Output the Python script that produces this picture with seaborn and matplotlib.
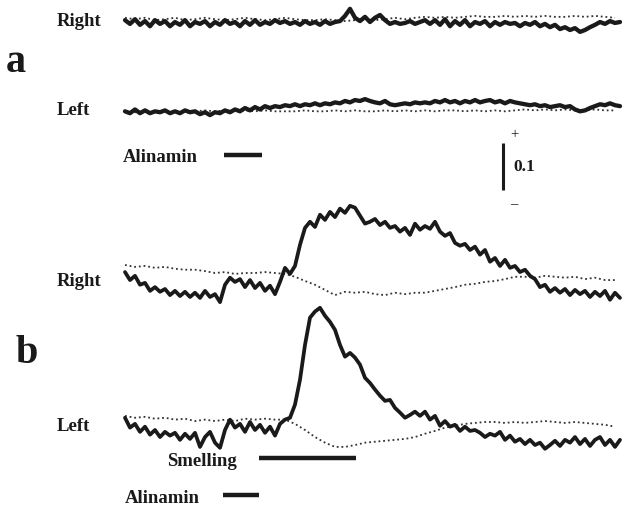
import numpy as np
import pandas as pd
import matplotlib
matplotlib.use('Agg')
import matplotlib.pyplot as plt
import seaborn as sns

# traces, in units of 1e-3 (scale bar = 0.1)
# solid traces sampled every 2.5 s, dotted traces every 5 s
a_right_solid = [4, -4, 6, -6, 2, -9, 4, -4, 2, -9,
                 0, -6, 4, -9, 0, -4, 2, -9, 0, -6,
                 4, -4, 0, -9, 2, -6, 4, -6, 0, -4,
                 4, -2, 2, -4, 0, -6, 2, -4, 0, -6,
                 2, -4, 0, 2, 13, 28, 9, 2, 11, 0,
                 9, 15, 4, -4, 0, -4, -2, 2, -4, 0,
                 4, -4, 4, -6, 6, -9, 2, -6, 4, -9,
                 0, -4, 2, -9, 0, -6, 0, -4, -2, -9,
                 -2, -6, 0, -9, -4, -11, -6, -15, -11, -17,
                 -13, -21, -17, -11, -6, 0, -4, 2, -2, 0]
a_right_dotted = [9, 6, 9, 4, 6, 9, 4, 6, 9, 6, 4, 6, 9, 6, 4, 6, 9, 6, 4, 4,
                  6, 4, 2, 4, 6, 4, 6, 9, 6, 9, 11, 9, 11, 9, 11, 13, 11, 11, 13, 11,
                  13, 11, 13, 11, 11, 13, 11, 13, 11, 9]
a_left_solid = [-13, -17, -9, -17, -11, -17, -13, -15, -11, -17,
                -13, -17, -11, -15, -13, -19, -15, -21, -15, -17,
                -11, -15, -9, -13, -6, -11, -4, -9, -2, -6,
                -2, -4, 0, -2, 2, -2, 2, 0, 4, 0,
                4, 2, 6, 4, 9, 6, 11, 9, 13, 9,
                6, 4, 9, 2, 0, 2, 4, 2, 6, 4,
                6, 4, 9, 6, 11, 6, 9, 4, 9, 6,
                11, 6, 9, 11, 6, 9, 4, 9, 6, 4,
                2, 0, 2, -2, 0, -4, -2, 0, -4, -2,
                -9, -13, -11, -6, -2, 2, 0, 4, 0, -2]
a_left_dotted = [-13, -15, -13, -15, -13, -15, -13, -13, -11, -13, -11, -13, -11, -13, -11, -13, -13, -13, -11, -13,
                 -13, -11, -13, -11, -13, -13, -11, -13, -11, -13, -11, -13, -11, -11, -13, -11, -13, -11, -13, -11,
                 -9, -11, -9, -11, -9, -11, -11, -9, -11, -11]
b_right_solid = [38, 21, 30, 11, 15, -2, 6, -4, 2, -11,
                 -2, -13, -4, -15, -6, -17, -2, -15, -9, -26,
                 11, 26, 17, 23, 6, 21, 4, 15, -2, 9,
                 -9, 17, 47, 34, 51, 96, 132, 145, 134, 160,
                 149, 166, 155, 173, 164, 179, 175, 158, 141, 145,
                 151, 138, 145, 132, 136, 124, 132, 117, 141, 128,
                 136, 130, 145, 124, 115, 121, 100, 94, 98, 85,
                 92, 75, 85, 60, 68, 51, 64, 47, 51, 38,
                 43, 30, 23, 6, 11, -4, 4, -6, 2, -11,
                 0, -9, -2, -15, -4, -13, -2, -21, -6, -17]
b_right_dotted = [53, 49, 51, 47, 49, 45, 43, 43, 40, 36, 38, 34, 36, 36, 38, 36, 34, 28, 19, 11,
                  0, -11, -4, -6, -4, -9, -11, -6, -9, -6, -6, -2, 2, 6, 11, 13, 17, 19, 23, 28,
                  28, 26, 30, 28, 26, 28, 23, 26, 21, 21]
b_left_solid = [47, 26, 34, 17, 28, 11, 21, 6, 17, 9,
                15, 0, 13, 2, 15, -15, 6, 17, -6, -17,
                21, 43, 26, 34, 17, 38, 21, 32, 15, 28,
                9, 34, 43, 47, 75, 128, 202, 260, 273, 281,
                264, 251, 234, 202, 177, 185, 175, 160, 132, 121,
                107, 94, 83, 85, 68, 58, 47, 53, 60, 51,
                60, 43, 51, 30, 40, 28, 32, 19, 28, 19,
                21, 15, 6, 13, 9, 17, 0, 9, -4, 2,
                -9, 0, -11, -6, -19, -11, -2, -13, 0, -6,
                6, -9, 2, -13, 0, 6, -11, 0, -15, 0]
b_left_dotted = [51, 47, 49, 45, 47, 43, 45, 40, 43, 40, 43, 40, 45, 43, 45, 43, 43, 34, 21, 6,
                 -6, -15, -15, -11, -6, -4, -2, 0, 2, 6, 13, 19, 26, 30, 34, 36, 38, 38, 36, 38,
                 36, 38, 40, 38, 36, 38, 36, 34, 32, 28]

# stimulus periods (s)
alinamin_a = (49.5, 68.5)
alinamin_b = (49.0, 67.0)
smelling_b = (67.0, 115.5)
scale_value = 0.1

# layout: baseline of each trace row in signal units
row_base = {'aR': 1.034, 'aL': 0.857, 'bR': 0.464, 'bL': 0.145}
ink = '#1a1a1a'
dot_ink = '#333333'

sns.set_style('white')
plt.rcParams['font.family'] = ['Liberation Serif', 'DejaVu Serif']

fig = plt.figure(figsize=(6.25, 5.08), dpi=100)
ax = fig.add_axes([0, 0, 1, 1])


def trace(vals, base, step, dotted, lw=2.7):
    t = step * np.arange(len(vals))
    y = base + np.array(vals) / 1000.0
    if dotted:
        sns.lineplot(x=t, y=y, ax=ax, color=dot_ink, lw=1.3, ls=(0, (1, 1.6)))
    else:
        sns.lineplot(x=t, y=y, ax=ax, color=ink, lw=lw)


trace(a_right_dotted, row_base['aR'], 5.0, True)
trace(a_right_solid, row_base['aR'], 2.5, False, lw=3.1)
trace(a_left_dotted, row_base['aL'], 5.0, True)
trace(a_left_solid, row_base['aL'], 2.5, False, lw=3.1)
trace(b_right_dotted, row_base['bR'], 5.0, True)
trace(b_right_solid, row_base['bR'], 2.5, False)
trace(b_left_dotted, row_base['bL'], 5.0, True)
trace(b_left_solid, row_base['bL'], 2.5, False)

# stimulus bars
ax.hlines(0.751, *alinamin_a, color=ink, lw=3.2)
ax.hlines(0.106, *smelling_b, color=ink, lw=3.2)
ax.hlines(0.028, *alinamin_b, color=ink, lw=3.2)

# scale bar
ax.vlines(189, 0.677, 0.677 + scale_value, color=ink, lw=2.2)

ax.set_xlim(-62.5, 250)
ax.set_ylim(0, 508 / 470)
ax.axis('off')

W, H = 625, 508


def label(x, y, s, size=13.5, weight='bold', va='baseline'):
    fig.text(x / W, 1 - y / H, s, fontsize=size, fontweight=weight, va=va, ha='left', color=ink)


label(57, 26, 'Right')
label(57, 115, 'Left')
label(123, 162, 'Alinamin')
label(6, 72, 'a', size=29)
label(16, 363, 'b', size=29)
label(57, 286, 'Right')
label(57, 431, 'Left')
label(167, 466, 'Smelling')
label(125, 503, 'Alinamin')
label(510, 135, '+', size=10.5, weight='normal', va='center')
label(513, 167, '0.1', size=12.5, va='center')
label(510, 205, '\u2013', size=10.5, weight='normal', va='center')

plt.savefig('out.png', dpi=100)
